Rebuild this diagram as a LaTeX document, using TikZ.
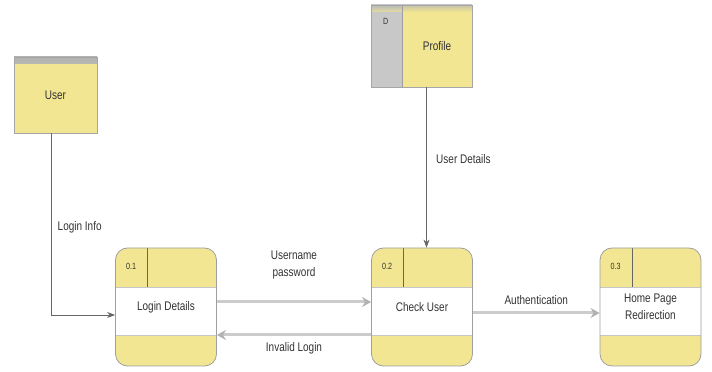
\documentclass[tikz,border=0pt]{standalone}
\usepackage{fontspec}
\setmainfont{Liberation Sans}[FakeStretch=0.8]
\usetikzlibrary{arrows.meta}

\definecolor{dfdyellow}{RGB}{242,230,146}
\definecolor{dfdgray}{RGB}{200,200,200}

\begin{document}
\begin{tikzpicture}[x=1pt, y=1pt,
	font=\fontsize{12.5}{17}\selectfont, text=black!80,
	userbox/.style={rectangle, draw=gray!70, fill=dfdyellow, inner sep=0pt,
		minimum width=83pt, minimum height=76pt,
		path picture={\shade[top color=gray!60, bottom color=dfdyellow]
			(path picture bounding box.north west) rectangle ([yshift=-7pt]path picture bounding box.north east);}},
	storebox/.style={rectangle, draw=gray!70, fill=dfdyellow, inner sep=0pt,
		minimum width=101pt, minimum height=82pt,
		path picture={
			\fill[dfdgray] (path picture bounding box.north west) rectangle ([xshift=31pt]path picture bounding box.south west);
			\shade[top color=gray!60, bottom color=dfdyellow, opacity=0.7]
				(path picture bounding box.north west) rectangle ([yshift=-7pt]path picture bounding box.north east);
			\draw[gray!75, line width=0.8pt] ([xshift=31pt]path picture bounding box.north west) -- ([xshift=31pt]path picture bounding box.south west);}},
	procbox/.style={rectangle, rounded corners=12pt, draw=gray!75, line width=0.8pt, fill=dfdyellow,
		minimum width=101pt, minimum height=118pt, align=center,
		path picture={
			\fill[white, sharp corners] ([yshift=-39pt]path picture bounding box.north west) rectangle ([yshift=-87pt]path picture bounding box.north east);
			\draw[gray!45, line width=0.5pt] ([yshift=-39pt]path picture bounding box.north west) -- ([yshift=-39pt]path picture bounding box.north east);
			\draw[gray!45, line width=0.5pt] ([yshift=-87pt]path picture bounding box.north west) -- ([yshift=-87pt]path picture bounding box.north east);
			\draw[gray!80!black, line width=0.8pt] ([xshift=32pt]path picture bounding box.north west) -- ([xshift=32pt,yshift=-39pt]path picture bounding box.north west);}},
	pid/.style={font=\fontsize{9}{10}\selectfont, inner sep=0pt},
	flow/.style={draw=gray!80!black, line width=0.8pt, -{Stealth[length=8pt, width=6pt]}},
	wideflow/.style={draw=gray!40, line width=3pt, -{Stealth[length=9pt, width=10pt, color=gray!60]}}]

	\useasboundingbox (0,0) rectangle (712,372);

	% entity and data store
	\node[userbox] (user) at (55.5,277) {User};
	\node[storebox] (profile) at (421.5,326) {\hspace*{31pt}Profile};
	\node[pid] (profile id) at ([xshift=15pt,yshift=-17pt]profile.north west) {D};

	% processes
	\node[procbox] (login) at (166,65) {Login Details};
	\node[procbox] (check) at (422,65) {Check User};
	\node[procbox] (home) at (650.5,65) {Home Page\\Redirection};
	\node[pid] (login id) at ([xshift=16pt,yshift=-19pt]login.north west) {0.1};
	\node[pid] (check id) at ([xshift=16pt,yshift=-19pt]check.north west) {0.2};
	\node[pid] (home id) at ([xshift=16pt,yshift=-19pt]home.north west) {0.3};

	% data flows
	\draw[flow] ([xshift=-4.5pt]user.south) |- node[pos=0.26, right=3pt] (login info) {Login Info} ([yshift=-8pt]login.west);
	\draw[flow] ([xshift=5pt]profile.south) -- node[pos=0.45, right=6pt] (user details) {User Details} ([xshift=5pt]profile.south |- check.north);
	\draw[wideflow] ([yshift=5pt]login.east) -- node[above=18pt, align=center, text=black!80] (credentials) {Username\\password} ([yshift=5pt]check.west);
	\draw[wideflow] ([yshift=-28pt]check.west) -- node[below=3pt, text=black!80] (invalid) {Invalid Login} ([yshift=-28pt]login.east);
	\draw[wideflow] ([yshift=-6pt]check.east) -- node[above=4pt, text=black!80] (auth) {Authentication} ([yshift=-6pt]home.west);
\end{tikzpicture}
\end{document}
